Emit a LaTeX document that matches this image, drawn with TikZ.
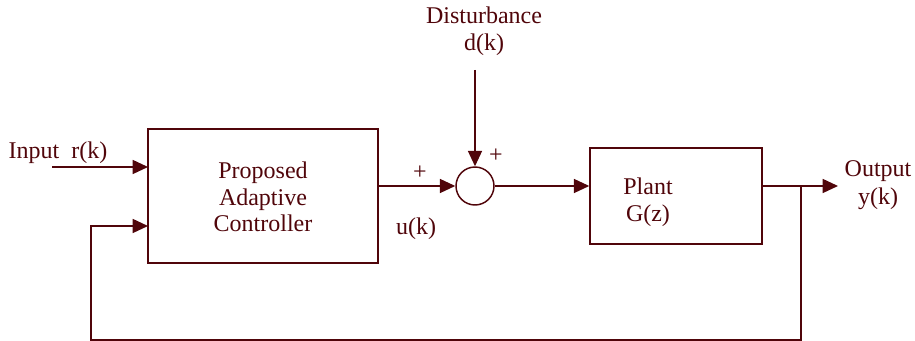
\documentclass[tikz,border=0pt]{standalone}
\usepackage{fontspec}
\setmainfont{Liberation Serif}
\usetikzlibrary{arrows.meta}
\definecolor{dred}{RGB}{80,5,10}
\begin{document}
\begin{tikzpicture}[x=0.75pt,y=-0.75pt,
  every node/.style={text=dred,font=\fontsize{18}{20}\selectfont},
  blk/.style={draw=dred,line width=1.1pt,inner sep=0pt},
  conn/.style={draw=dred,line width=1.1pt},
  arr/.style={conn,-{Triangle[length=11.5pt,width=10.5pt]}},
  lbl/.style={inner sep=0pt,align=center}]
\useasboundingbox (0,0) rectangle (915,341);
\node[blk,minimum width=230*0.75pt,minimum height=134*0.75pt] (ctrl) at (263,196) {};
\node[lbl] (ctrlt) at (263,197) {Proposed\\Adaptive\\Controller};
\node[lbl] (plantt) at (648,202) {Plant\\[0.5pt]G(z)};
\node[blk,minimum width=172*0.75pt,minimum height=96*0.75pt] (plant) at (676,196) {};
\node[blk,circle,minimum size=38*0.75pt,fill=white] (sum) at (475,186) {};
\node[lbl] (dist) at (484,31) {Disturbance\\[0.5pt]d(k)};
\node[lbl] (inp) at (58,153) {Input\ \ r(k)};
\node[lbl] (outp) at (878,185) {Output\\[0.5pt]y(k)};
\node[lbl] (uk) at (416,229) {u(k)};
\node[lbl] (p1) at (420,173) {+};
\node[lbl] (p2) at (496,156) {+};
\coordinate (inS) at (52,167);
\coordinate (inE) at (148,167);
\coordinate (fbE) at (148,226);
\coordinate (fbA) at (91,226);
\coordinate (fbB) at (91,340);
\coordinate (fbC) at (801,340);
\coordinate (fbD) at (801,186);
\coordinate (outE) at (838,186);
\coordinate (dS) at (475,70);
\draw[arr] (inS) -- (inE);
\draw[arr] (fbD) -- (fbC) -- (fbB) -- (fbA) -- (fbE);
\draw[arr] (ctrl.east |- sum) -- (sum.west);
\draw[arr] (dS) -- (sum.north);
\draw[arr] (sum.east) -- (plant.west |- sum);
\draw[arr] (plant.east |- sum) -- (outE);
\end{tikzpicture}
\end{document}
